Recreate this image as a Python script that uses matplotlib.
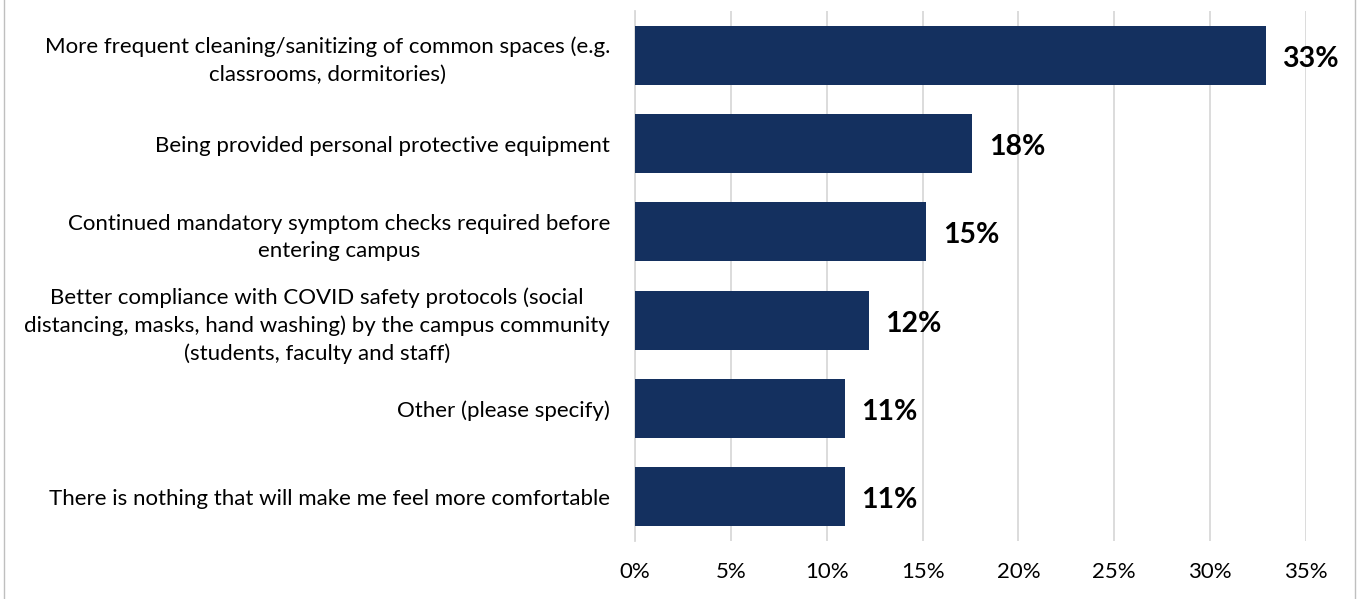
import matplotlib
matplotlib.use("Agg")
from matplotlib import pyplot as plt
from matplotlib.patches import Rectangle
from matplotlib.ticker import FuncFormatter

categories = [
  "More frequent cleaning/sanitizing of common spaces (e.g.\nclassrooms, dormitories)",
  "Being provided personal protective equipment",
  "Continued mandatory symptom checks required before\nentering campus",
  "Better compliance with COVID safety protocols (social\ndistancing, masks, hand washing) by the campus community\n(students, faculty and staff)",
  "Other (please specify)",
  "There is nothing that will make me feel more comfortable",
]
shares = [32.9, 17.6, 15.2, 12.2, 10.95, 10.95]
x_ticks = [0, 5, 10, 15, 20, 25, 30, 35]

NAVY = "#14305f"
GRID = "#d9d9d9"

plt.rcParams['font.family'] = ['Lato', 'DejaVu Sans']

fig = plt.figure(figsize=(13.63, 5.99), dpi=100)
ax = fig.add_axes([0.4659, 0.0968, 0.4923, 0.8848])

ypos = list(range(len(categories)))
ax.barh(ypos, shares, height=0.67, color=NAVY, zorder=3)
ax.set_ylim(len(categories) - 0.5, -0.5)
ax.set_xlim(0, 35)

for y, v in zip(ypos, shares):
  ax.text(v + 0.85, y + 0.04, f"{round(v)}%", va="center", ha="left",
          fontsize=20.5, fontweight="bold", color="black")

ax.set_yticks(ypos)
ax.set_yticklabels(categories, fontsize=16, multialignment="center",
                   linespacing=1.45)
ax.set_xticks(x_ticks)
ax.xaxis.set_major_formatter(FuncFormatter(lambda v, p: f"{v:.0f}%"))
ax.tick_params(axis="x", labelsize=16, length=0, pad=15)
ax.tick_params(axis="y", length=0, pad=18)

ax.grid(axis="x", color=GRID, linewidth=1.3, zorder=0)
for s in ["top", "right", "bottom"]:
  ax.spines[s].set_visible(False)
ax.spines["left"].set_color(GRID)
ax.spines["left"].set_linewidth(1.3)

# thin frame around the whole chart
fig.patches.append(Rectangle((4 / 1363, -0.01), 1351 / 1363, 1.02,
                             transform=fig.transFigure, fill=False,
                             edgecolor="#bfbfbf", linewidth=1))

plt.savefig("out.png", dpi=100)
